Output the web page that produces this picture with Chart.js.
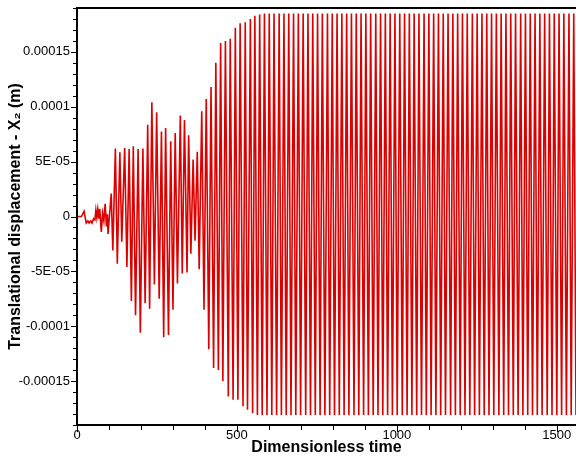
<!DOCTYPE html>
<html>
<head>
<meta charset="utf-8">
<script src="https://cdn.jsdelivr.net/npm/chart.js@4.4.1/dist/chart.umd.min.js"></script>
<style>
    html, body { margin: 0; padding: 0; background: #fff; }
    #displacementChart { display: block; }
</style>
</head>
<body>
<canvas id="displacementChart" width="576" height="457"></canvas>
<script>
// start-up transient and growth phase: turning points (time, X2 in m)
const earlyTime = [
    0, 14, 22, 29, 34, 38, 43, 47, 52, 56, 59, 62, 65, 68, 71, 76, 80, 84, 88, 92, 95, 97,
    107, 112, 120, 126, 134, 140, 149, 156, 163, 170, 176, 183, 191, 198, 206, 213, 221, 227,
    234, 242, 249, 257, 264, 271, 277, 286, 293, 300, 307, 314, 323, 329, 336, 344, 349, 356,
    363, 369, 376, 382, 390, 397, 404, 412, 419, 427, 434, 442, 449, 456, 464, 473, 479, 488,
    495, 503, 510, 519, 526, 533, 542, 549, 556, 564, 571, 579
];
const earlyDisp = [
    0, 0, 4.8e-6, -6e-6, -4e-6, -6e-6, -4e-6, -6e-6, -2e-6, -3e-6, 6e-6, -1e-6, 6.5e-6, -2e-6, 7e-6, -1.4e-5, 3e-6, -4e-6, 1.15e-5, -9e-6, 2e-6, -1.6e-5,
    2.1e-5, -3.1e-5, 6.2e-5, -4.3e-5, 5.85e-5, -2.3e-5, 6.24e-5, -4.6e-5, 6.15e-5, -7.7e-5, 6.4e-5, -9.0e-5, 6.15e-5, -1.06e-4, 6.2e-5, -7.9e-5, 8.36e-5, -8.4e-5,
    1.04e-4, -6.2e-5, 9.5e-5, -7.5e-5, 7.75e-5, -1.10e-4, 8.06e-5, -1.08e-4, 6.85e-5, -8.5e-5, 7.6e-5, -6.1e-5, 9.2e-5, -5.2e-5, 8.8e-5, -5.1e-5, 7.4e-5, -3.4e-5,
    5.2e-5, -2.2e-5, 5.9e-5, -4.8e-5, 9.6e-5, -8.5e-5, 1.07e-4, -1.21e-4, 1.18e-4, -1.38e-4, 1.40e-4, -1.40e-4, 1.58e-4, -1.50e-4, 1.60e-4, -1.64e-4, 1.62e-4, -1.67e-4,
    1.72e-4, -1.67e-4, 1.76e-4, -1.73e-4, 1.77e-4, -1.76e-4, 1.80e-4, -1.79e-4, 1.83e-4, -1.81e-4, 1.84e-4, -1.81e-4
];

// limit cycle: crest and trough times, constant amplitude
const steadyPeakTime = [
    586, 601, 616, 632, 647, 662, 677, 692, 707, 722, 737, 752, 767, 783, 798, 813, 828, 843, 858, 873,
    888, 903, 918, 934, 949, 964, 979, 994, 1009, 1024, 1039, 1054, 1069, 1085, 1100, 1115, 1130, 1145,
    1160, 1175, 1190, 1205, 1220, 1236, 1251, 1266, 1281, 1296, 1311, 1326, 1341, 1356, 1371, 1387,
    1402, 1417, 1432, 1447, 1462, 1477, 1492, 1507, 1522, 1538, 1553
];
const steadyTroughTime = [
    594, 609, 624, 639, 654, 669, 684, 699, 715, 730, 745, 760, 775, 790, 805, 820, 835, 850, 866, 881,
    896, 911, 926, 941, 956, 971, 986, 1001, 1017, 1032, 1047, 1062, 1077, 1092, 1107, 1122, 1137, 1152,
    1168, 1183, 1198, 1213, 1228, 1243, 1258, 1273, 1288, 1303, 1319, 1334, 1349, 1364, 1379, 1394,
    1409, 1424, 1439, 1454, 1470, 1485, 1500, 1515, 1530, 1545, 1560
];
const steadyPeak = 1.85e-4;
const steadyTrough = -1.81e-4;

// axis labels
const xTickLabels = [0, 500, 1000, 1500];
const yTickValues = [-0.00015, -0.0001, -5e-5, 0, 5e-5, 0.0001, 0.00015];
const yTickLabels = ['-0.00015', '-0.0001', '-5E-05', '0', '5E-05', '0.0001', '0.00015'];

const points = [];
earlyTime.forEach((t, i) => points.push({ x: t, y: earlyDisp[i] }));
steadyPeakTime.forEach(t => points.push({ x: t, y: steadyPeak }));
steadyTroughTime.forEach(t => points.push({ x: t, y: steadyTrough }));
points.sort((a, b) => a.x - b.x);

function yLabelFor(v) {
    for (let i = 0; i < yTickValues.length; i++) {
        if (Math.abs(v - yTickValues[i]) < 1e-9) return yTickLabels[i];
    }
    return '';
}

// outward tick marks plus the frame lines
const frameTicks = {
    id: 'frameTicks',
    afterDraw(chart) {
        const ctx = chart.ctx;
        const { left, right, top, bottom } = chart.chartArea;
        const xs = chart.scales.x;
        const ys = chart.scales.y;
        ctx.save();
        ctx.strokeStyle = '#000';
        ctx.lineWidth = 1;
        xs.ticks.forEach(t => {
            const px = Math.round(xs.getPixelForValue(t.value)) + 0.5;
            const len = xTickLabels.includes(Math.round(t.value)) ? 7 : 5;
            ctx.beginPath();
            ctx.moveTo(px, bottom);
            ctx.lineTo(px, bottom + len);
            ctx.stroke();
        });
        ys.ticks.forEach(t => {
            const py = Math.round(ys.getPixelForValue(t.value)) + 0.5;
            const len = yLabelFor(t.value) ? 6 : 4;
            ctx.beginPath();
            ctx.moveTo(left, py);
            ctx.lineTo(left - len, py);
            ctx.stroke();
        });
        ctx.lineWidth = 2;
        ctx.beginPath();
        ctx.moveTo(left, top);
        ctx.lineTo(right, top);
        ctx.moveTo(left, top - 1);
        ctx.lineTo(left, bottom + 1);
        ctx.moveTo(left - 1, bottom);
        ctx.lineTo(right, bottom);
        ctx.stroke();
        ctx.restore();
    }
};

const ctx = document.getElementById('displacementChart').getContext('2d');
new Chart(ctx, {
    type: 'line',
    data: {
        datasets: [{
            data: points,
            borderColor: '#dd0000',
            borderWidth: 1.6,
            pointRadius: 0,
            tension: 0,
            fill: false
        }]
    },
    options: {
        responsive: false,
        animation: false,
        devicePixelRatio: 1,
        layout: { padding: { top: 8, right: 0, left: 0, bottom: 0 } },
        plugins: {
            legend: { display: false },
            tooltip: { enabled: false }
        },
        scales: {
            x: {
                type: 'linear',
                min: 0,
                max: 1560,
                grid: { display: false, drawTicks: false },
                border: { display: false },
                ticks: {
                    stepSize: 100,
                    includeBounds: false,
                    autoSkip: false,
                    maxRotation: 0,
                    padding: 3,
                    color: '#000',
                    font: { family: '"Liberation Sans", Arial, sans-serif', size: 13 },
                    callback: v => xTickLabels.includes(Math.round(v)) ? String(Math.round(v)) : ''
                },
                title: {
                    display: true,
                    text: 'Dimensionless time',
                    color: '#000',
                    padding: { top: 0, bottom: 0 },
                    font: { family: '"Liberation Sans", Arial, sans-serif', size: 16, weight: 'bold' }
                },
                afterFit: scale => {
                    scale.height = 32;
                    scale.paddingLeft = 0;
                    scale.paddingRight = 0;
                }
            },
            y: {
                type: 'linear',
                min: -0.00019,
                max: 0.00019,
                grid: { display: false, drawTicks: false },
                border: { display: false },
                ticks: {
                    stepSize: 0.00001,
                    includeBounds: false,
                    autoSkip: false,
                    padding: 7,
                    color: '#000',
                    font: { family: '"Liberation Sans", Arial, sans-serif', size: 13 },
                    callback: v => yLabelFor(v)
                },
                title: {
                    display: true,
                    text: 'Translational displacement - X\u2082 (m)',
                    color: '#000',
                    padding: { top: 6, bottom: 0 },
                    font: { family: '"Liberation Sans", Arial, sans-serif', size: 16, weight: 'bold' }
                },
                afterFit: scale => {
                    scale.width = 77;
                    scale.paddingTop = 0;
                    scale.paddingBottom = 0;
                }
            }
        }
    },
    plugins: [frameTicks]
});
</script>
</body>
</html>
